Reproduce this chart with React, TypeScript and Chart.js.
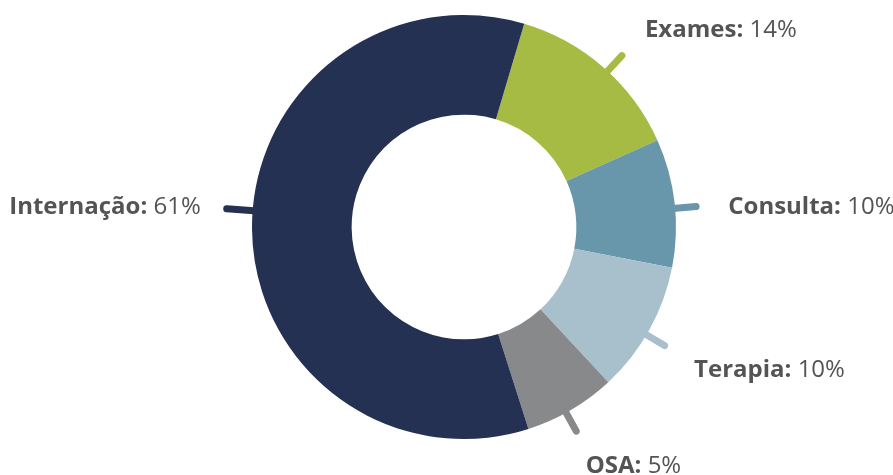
import React, { useEffect, useRef } from "react";
import { Chart, registerables } from "chart.js";

Chart.register(...registerables);

const categories = ["Exames", "Consulta", "Terapia", "OSA", "Internação"];
// arc sizes as drawn in the picture (share of the ring, %)
const arcValues = [13.7, 9.8, 10.0, 7.0, 59.5];
// percentages printed in the labels
const percentLabels = ["14%", "10%", "10%", "5%", "61%"];
const colors = ["#a5bb43", "#6897ab", "#a7c0cc", "#88898b", "#243153"];

const TEXT_COLOR = "#545454";
const FONT = "'Open Sans', 'Noto Sans', sans-serif";

const leaderPlugin = {
  id: "leaderLabels",
  afterDatasetsDraw(chart: any) {
    const ctx = chart.ctx as CanvasRenderingContext2D;
    const meta = chart.getDatasetMeta(0);
    const angleTweak = [1.5, 1.5, 1.5, 1.5, 5];
    const labelAngleTweak = [0, 0.7, 1.3, 1.8, 0];
    const lineExtra = [0, 0, 0, 0, 5];
    const labelExtra = [0, -2, 4, 1, -3];
    meta.data.forEach((arc: any, i: number) => {
      const { x: cx, y: cy, startAngle, endAngle, outerRadius } = arc.getProps(
        ["x", "y", "startAngle", "endAngle", "outerRadius"],
        true
      );
      const a = (startAngle + endAngle) / 2 + (angleTweak[i] * Math.PI) / 180;
      const cos = Math.cos(a);
      const sin = Math.sin(a);
      const r0 = outerRadius - 8;
      const r1 = outerRadius + 21 + lineExtra[i];
      ctx.save();
      ctx.strokeStyle = colors[i];
      ctx.lineWidth = 7;
      ctx.lineCap = "round";
      ctx.beginPath();
      ctx.moveTo(cx + r0 * cos, cy + r0 * sin);
      ctx.lineTo(cx + r1 * cos, cy + r1 * sin);
      ctx.stroke();

      const la = a + (labelAngleTweak[i] * Math.PI) / 180;
      const rl = outerRadius + 55 + labelExtra[i];
      const lx = cx + rl * Math.cos(la);
      const ly = cy + rl * Math.sin(la);
      const name = categories[i] + ":";
      const pct = " " + percentLabels[i];
      ctx.textBaseline = "middle";
      ctx.fillStyle = TEXT_COLOR;
      ctx.font = `700 24px ${FONT}`;
      const w1 = ctx.measureText(name).width;
      ctx.font = `400 24px ${FONT}`;
      const w2 = ctx.measureText(pct).width;
      const startX = cos >= 0 ? lx : lx - (w1 + w2);
      ctx.textAlign = "left";
      ctx.font = `700 24px ${FONT}`;
      ctx.fillText(name, startX, ly);
      ctx.font = `400 24px ${FONT}`;
      ctx.fillText(pct, startX + w1, ly);
      ctx.restore();
    });
  },
};

export default function App() {
  const ref = useRef<HTMLCanvasElement | null>(null);
  useEffect(() => {
    if (!ref.current) return;
    const chart = new Chart(ref.current, {
      type: "doughnut",
      data: {
        labels: categories,
        datasets: [
          {
            data: arcValues,
            backgroundColor: colors,
            borderWidth: 0,
          },
        ],
      },
      options: {
        responsive: false,
        animation: false,
        rotation: 16.5,
        cutout: "53%",
        layout: { padding: { left: 252, right: 217, top: 15, bottom: 36 } },
        plugins: {
          legend: { display: false },
          tooltip: { enabled: false },
        },
      },
      plugins: [leaderPlugin],
    });
    return () => chart.destroy();
  }, []);
  return (
    <div style={{ position: "fixed", left: 0, top: 0, width: 893, height: 475, background: "#fff" }}>
      <canvas ref={ref} width={893} height={475} style={{ width: 893, height: 475 }} />
    </div>
  );
}
